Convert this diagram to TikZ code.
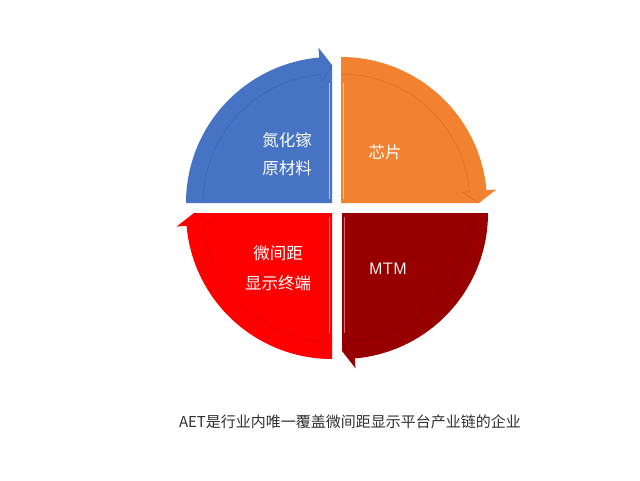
\documentclass[tikz,border=0pt]{standalone}
\usepackage{fontspec}
\newfontfamily\cjk{Noto Sans CJK SC}
\definecolor{qblue}{HTML}{4673C4}
\definecolor{qblueL}{HTML}{A9C4EC}
\definecolor{qblueD}{HTML}{3A62A8}
\definecolor{qorange}{HTML}{F28130}
\definecolor{qorangeL}{HTML}{FFD27A}
\definecolor{qorangeD}{HTML}{D86A20}
\definecolor{qred}{HTML}{FE0000}
\definecolor{qredL}{HTML}{FF8A8A}
\definecolor{qredD}{HTML}{D00000}
\definecolor{qdark}{HTML}{980000}
\definecolor{qdarkL}{HTML}{D86A6A}
\definecolor{qdarkD}{HTML}{7A0000}
\definecolor{captxt}{HTML}{303030}
% #1 center, #2 start angle, #3 end angle, #4 end-5, #5 fill, #6 band line, #7 highlight x, #8 highlight y-sign, #9 highlight colour
\newcommand\segpiece[9]{%
\begin{scope}[shift={#1}]
\fill[#5] (0,0) -- (#2:146) arc[start angle=#2, end angle=#4, radius=146]
  -- (#4:156) -- (#3:138) -- cycle;
\draw[#6, opacity=0.6, line width=0.8pt] (#2:129) arc[start angle=#2, end angle=#4, radius=129]
  -- (#4:122) -- (#3:138);
\draw[#9, line width=1.3pt] (#7,#8*4) -- (#7,#8*120);
\end{scope}}
\tikzset{lbl/.style={text=white, font=\cjk\fontsize{16.5}{20}\selectfont, align=center}}
\begin{document}
\begin{tikzpicture}[x=1pt,y=-1pt]
\useasboundingbox (0,0) rectangle (640,480);
\fill[white] (0,0) rectangle (640,480);
\segpiece{(332,203)}{180}{270}{265}{qblue}{qblueD}{-2.5}{-1}{qblueL}
\segpiece{(341,203)}{270}{360}{355}{qorange}{qorangeD}{2.5}{-1}{qorangeL}
\segpiece{(342,213)}{0}{90}{85}{qdark}{qdarkD}{2.5}{1}{qdarkL}
\segpiece{(332,213)}{90}{180}{175}{qred}{qredD}{-2.5}{1}{qredL}
\node[lbl] (t1) at (287,140) {氮化镓};
\node[lbl] (t2) at (287,168) {原材料};
\node[lbl] (t3) at (385,152) {芯片};
\node[lbl] (t4) at (278,253) {微间距};
\node[lbl] (t5) at (278,283) {显示终端};
\node[text=white, font=\sffamily\fontsize{16.5}{20}\selectfont] (t6) at (388,269) {MTM};
\node[text=captxt, font=\cjk\fontsize{15}{18}\selectfont] (cap) at (350,422) {AET是行业内唯一覆盖微间距显示平台产业链的企业};
\end{tikzpicture}
\end{document}
